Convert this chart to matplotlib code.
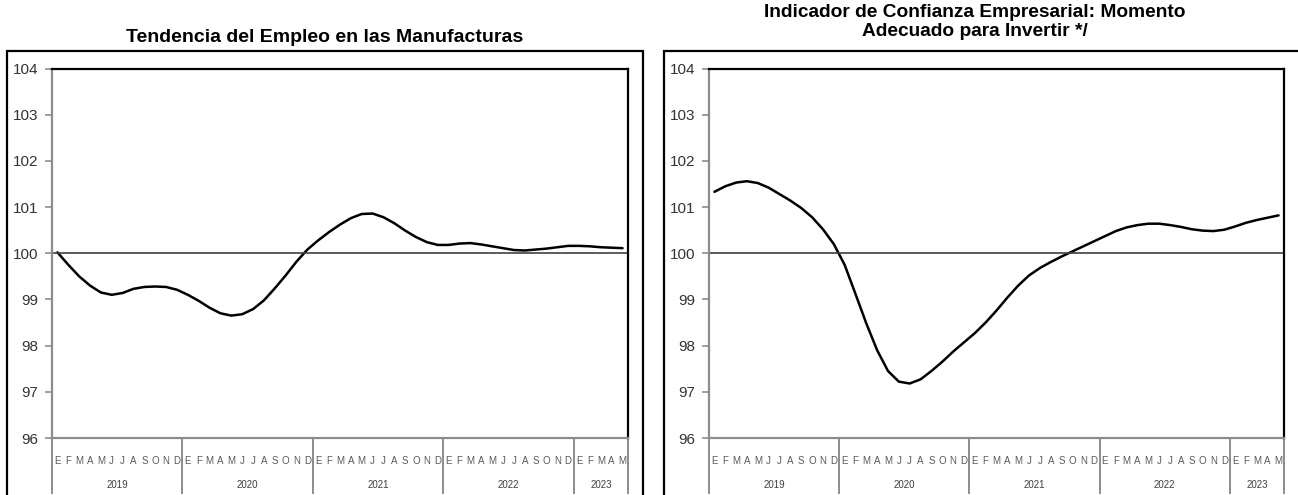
import matplotlib
matplotlib.use("Agg")
import matplotlib.pyplot as plt
from matplotlib.patches import Rectangle
import matplotlib.transforms as mtransforms

plt.rcParams['font.family'] = ['Liberation Sans', 'DejaVu Sans']

# monthly values, Jan 2019 .. May 2023
month_letters = ["E", "F", "M", "A", "M", "J", "J", "A", "S", "O", "N", "D"]
years = ["2019", "2020", "2021", "2022", "2023"]
months_per_year = [12, 12, 12, 12, 5]

empleo = [100.02, 99.75, 99.50, 99.30, 99.15, 99.10, 99.14, 99.23, 99.27, 99.28,
          99.27, 99.21, 99.10, 98.97, 98.82, 98.70, 98.65, 98.68, 98.79, 98.98,
          99.24, 99.52, 99.82, 100.08, 100.28, 100.46, 100.62, 100.76, 100.85, 100.86,
          100.78, 100.65, 100.49, 100.35, 100.24, 100.18, 100.18, 100.21, 100.22, 100.19,
          100.15, 100.11, 100.07, 100.06, 100.08, 100.10, 100.13, 100.16, 100.16, 100.15,
          100.13, 100.12, 100.11]

invertir = [101.33, 101.45, 101.53, 101.56, 101.52, 101.42, 101.28, 101.14, 100.98, 100.78,
            100.52, 100.20, 99.75, 99.12, 98.48, 97.90, 97.45, 97.22, 97.18, 97.27,
            97.45, 97.65, 97.87, 98.07, 98.27, 98.50, 98.76, 99.04, 99.30, 99.52,
            99.68, 99.81, 99.93, 100.04, 100.15, 100.26, 100.37, 100.48, 100.56, 100.61,
            100.64, 100.64, 100.61, 100.57, 100.52, 100.49, 100.48, 100.51, 100.58, 100.66,
            100.72, 100.77, 100.82]

titles = ["Tendencia del Empleo en las Manufacturas",
          "Indicador de Confianza Empresarial: Momento\nAdecuado para Invertir */"]

W, H = 1298, 495
fig = plt.figure(figsize=(W / 100, H / 100), dpi=100)


def px_box(x0, y0, x1, y1):
    # pixel coords (top-left origin) -> figure fraction rect
    return [x0 / W, 1 - y1 / H, (x1 - x0) / W, (y1 - y0) / H]


def draw_panel(ax, values):
    n = len(values)
    x = list(range(n))
    ax.plot(x, values, color='black', lw=1.8, solid_capstyle='round')
    ax.axhline(100, color='#404040', lw=1.2)
    ax.set_xlim(-0.5, n - 0.5)
    ax.set_ylim(96, 104)
    ax.set_yticks(range(96, 105))
    ax.set_xticks([])
    for side in ['left', 'bottom']:
        ax.spines[side].set_color('#8c8c8c')
        ax.spines[side].set_linewidth(1.6)
    for side in ['top', 'right']:
        ax.spines[side].set_color('black')
        ax.spines[side].set_linewidth(1.6)
    ax.tick_params(axis='y', direction='out', length=5, width=1.2,
                   color='#8c8c8c', labelsize=11, labelcolor='#333333', pad=5)

    trans = mtransforms.blended_transform_factory(ax.transData, ax.transAxes)
    # month letters and year labels under the axis
    i = 0
    bounds = [-0.5]
    for yr, cnt in zip(years, months_per_year):
        for m in range(cnt):
            ax.text(i + m, -0.062, month_letters[m], transform=trans,
                    ha='center', va='center', fontsize=7, color='#595959')
        ax.text(i + (cnt - 1) / 2, -0.128, yr, transform=trans,
                ha='center', va='center', fontsize=7, color='#404040')
        i += cnt
        bounds.append(i - 0.5)
    for b in bounds:
        ax.plot([b, b], [0, -0.15], transform=trans, color='#8c8c8c',
                lw=1.4, clip_on=False)


ax1 = fig.add_axes(px_box(52, 68.5, 628, 438))
ax2 = fig.add_axes(px_box(709, 68.5, 1284, 438))
draw_panel(ax1, empleo)
draw_panel(ax2, invertir)

# outer frames around each panel
for x0, x1 in [(7, 643), (664, 1302)]:
    r = px_box(x0, 51, x1, 500)
    fig.add_artist(Rectangle((r[0], r[1]), r[2], r[3], transform=fig.transFigure,
                             fill=False, edgecolor='black', lw=1.6))

fig.text(325 / W, 1 - 38 / H, titles[0], ha='center', va='center',
         fontsize=14, fontweight='bold')
fig.text(975 / W, 1 - 22 / H, titles[1], ha='center', va='center',
         fontsize=13.8, fontweight='bold', linespacing=1.12)

fig.savefig("out.png", dpi=100)
